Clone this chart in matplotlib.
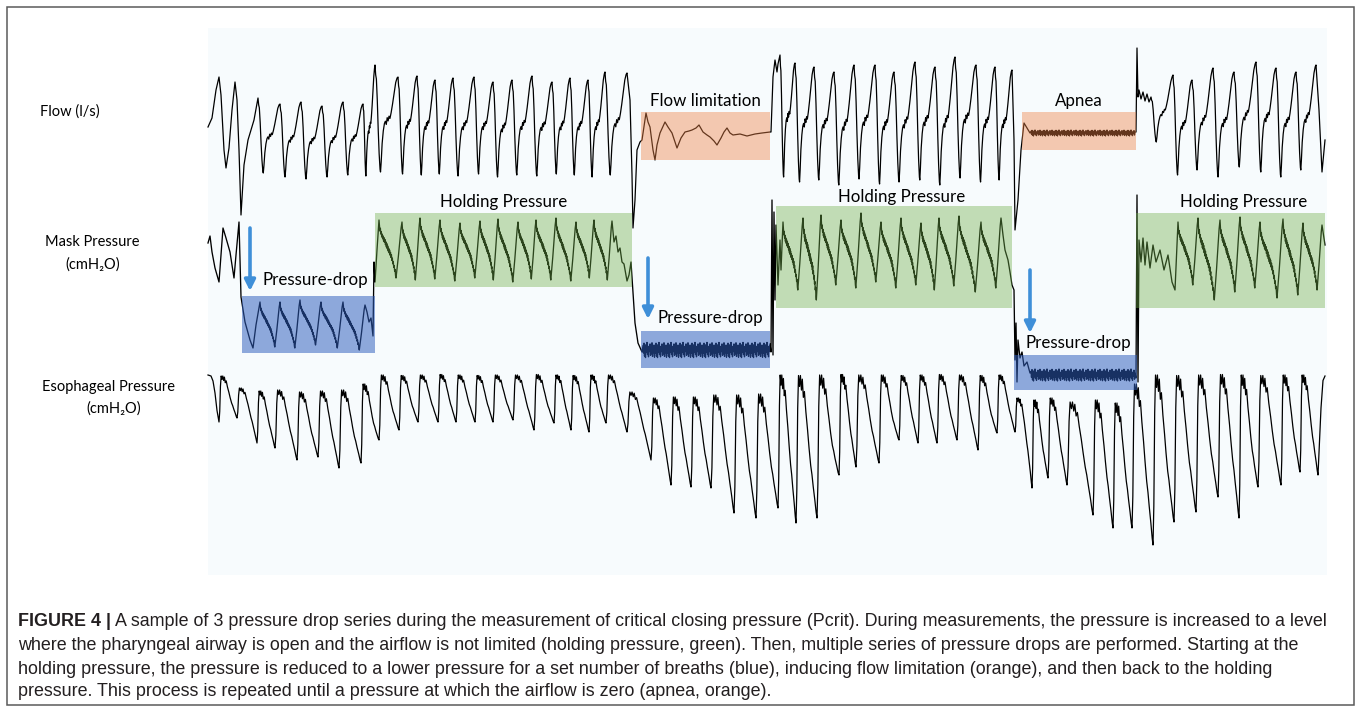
"""
Pcrit measurement: flow, mask pressure and esophageal pressure traces
during three pressure-drop series (holding / drop / flow limitation / apnea).
"""

import numpy as np
import matplotlib
matplotlib.use("Agg")
import matplotlib.pyplot as plt
from matplotlib.patches import Rectangle

# ---------------------------------------------------------------------------
# data: time in s, flow in l/s, pressures in cmH2O
# ---------------------------------------------------------------------------

# one breath cycle, phase 0..1 ; +1 = marker level (peak / trough), -1 = mid level
FLOW_SHAPE_PH = [0.00, 0.03, 0.06, 0.10, 0.14, 0.18, 0.22, 0.24, 0.27, 0.31, 0.36, 0.41,
                 0.45, 0.49, 0.53, 0.57, 0.61, 0.65, 0.70, 0.76, 0.83, 0.90, 0.96, 1.00]
FLOW_SHAPE_V = [1.00, 0.82, 0.75, 0.35, -0.20, -0.65, -0.95, -1.00, -0.80, -0.45, -0.20, -0.05,
                0.00, -0.06, 0.08, 0.02, 0.12, 0.08, 0.20, 0.38, 0.62, 0.86, 0.97, 1.00]

MASK_SHAPE_PH = [0.00, 0.02, 0.04, 0.06, 0.08, 0.10, 0.12, 0.14, 0.16, 0.18, 0.20, 0.22,
                 0.24, 0.26, 0.28, 0.30, 0.32, 0.34, 0.36, 0.38, 0.40, 0.42, 0.44, 0.46,
                 0.48, 0.50, 0.52, 0.54, 0.56, 0.58, 0.60, 0.62, 0.64, 0.66, 0.68, 0.70,
                 0.72, 0.74, 0.77, 0.80, 0.84, 0.88, 0.92, 0.96, 1.00]
MASK_SHAPE_V = [1.00, 0.80, 0.62, 0.72, 0.52, 0.60, 0.42, 0.52, 0.36, 0.46, 0.28, 0.40,
                0.24, 0.34, 0.16, 0.26, 0.08, 0.20, 0.02, 0.12, -0.06, 0.04, -0.12, -0.02,
                -0.20, -0.10, -0.28, -0.18, -0.38, -0.30, -0.50, -0.42, -0.62, -0.56, -0.76, -0.70,
                -0.92, -1.00, -0.78, -0.55, -0.25, 0.10, 0.45, 0.78, 1.00]

PES_SHAPE_PH = [0.00, 0.04, 0.08, 0.12, 0.17, 0.21, 0.26, 0.30, 0.35, 0.40, 0.47, 0.55,
                0.62, 0.70, 0.76, 0.82, 0.90, 0.96, 1.00]
PES_SHAPE_V = [1.00, 0.55, -0.55, -1.00, -0.85, -1.00, -0.80, -0.95, -0.70, -0.78, -0.50, -0.25,
               0.00, 0.25, 0.38, 0.55, 0.75, 0.92, 1.00]

# fixed signal noise used on the flat stretches (apnea, pressure drops)
JITTER = [0.6, -0.4, 0.9, -0.8, 0.2, -1.0, 0.7, -0.3, 1.0, -0.6, 0.1, -0.9,
          0.5, -0.2, 0.8, -0.7, 0.3, -0.5, 0.95, -0.85, 0.0, -0.35, 0.65, -0.95]

# --- flow ---
FLOW_PRE_T = [0.0, 0.4, 0.8, 1.1, 1.3, 1.6, 1.8, 2.1, 2.4, 2.7, 2.9, 3.1, 3.3, 3.6, 4.0, 4.6]
FLOW_PRE_V = [0.05, 0.14, 0.42, 0.55, 0.37, -0.18, -0.36, -0.16, 0.22, 0.50, 0.32, -0.18,
              -0.83, -0.33, -0.08, 0.12]
FLOW_DROP1_T = [5.0, 7.2, 9.3, 11.4, 13.5, 15.5]
FLOW_DROP1_PK = [0.34, 0.28, 0.30, 0.26, 0.30, 0.28]
FLOW_DROP1_TR = [-0.41, -0.45, -0.47, -0.45, -0.43, -0.44]
FLOW_HOLD1_T = [16.7, 19.0, 20.9, 22.7, 24.5, 26.6, 28.5, 30.4, 32.4, 34.4, 36.2, 38.0, 39.7, 41.9]
FLOW_HOLD1_PK = [0.67, 0.55, 0.56, 0.52, 0.54, 0.55, 0.50, 0.52, 0.56, 0.50, 0.54, 0.52, 0.60, 0.59]
FLOW_HOLD1_TR = [-0.40, -0.42, -0.43, -0.42, -0.44, -0.42, -0.45, -0.43, -0.44, -0.42, -0.43,
                 -0.45, -0.43]
FLOW_FL_T = [42.2, 42.4, 42.5, 42.7, 42.9, 43.2, 43.4, 43.8, 44.0, 44.2, 44.5, 44.7, 44.9,
             45.2, 45.7, 46.0, 46.4, 46.9, 47.3, 47.7, 48.1, 48.4, 48.8, 49.1, 49.5, 49.9,
             50.2, 50.6, 50.9, 51.3, 51.6, 51.9, 52.2, 52.5, 53.2, 53.9, 54.7, 55.4, 56.2]
FLOW_FL_V = [0.32, -0.43, -0.96, -0.68, -0.18, -0.10, -0.08, 0.19, 0.10, 0.05, -0.18, -0.28,
             -0.13, -0.01, 0.10, 0.05, -0.01, -0.16, -0.06, 0.00, 0.01, 0.02, 0.04, 0.07,
             0.00, -0.03, -0.05, -0.09, -0.13, -0.06, 0.00, 0.04, -0.01, -0.03, -0.02, -0.04,
             -0.02, -0.01, 0.00]
FLOW_UP2_T = [56.3, 56.5, 56.7, 56.9, 57.0]
FLOW_UP2_V = [0.00, 0.55, 0.72, 0.60, 0.68]
FLOW_HOLD2_T = [57.2, 58.7, 60.6, 62.6, 64.6, 66.7, 68.6, 70.7, 72.7, 74.7, 76.8, 78.7, 80.4]
FLOW_HOLD2_PK = [0.77, 0.69, 0.65, 0.60, 0.67, 0.67, 0.60, 0.70, 0.65, 0.75, 0.67, 0.65, 0.62]
FLOW_HOLD2_TR = [-0.45, -0.50, -0.48, -0.53, -0.47, -0.52, -0.50, -0.48, -0.53, -0.46,
                 -0.50, -0.48]
FLOW_AP_T = [80.6, 80.7, 81.0, 81.3, 81.6, 81.9, 82.2]
FLOW_AP_V = [-0.08, -0.98, -0.68, -0.18, 0.09, 0.04, -0.01]
APNEA_T = (82.3, 92.7)
APNEA_LEVEL = -0.01
FLOW_JUMP_T = [92.8, 92.9, 93.0, 93.1, 93.3, 93.5, 93.7, 93.9, 94.1]
FLOW_JUMP_V = [0.00, 0.84, 0.35, 0.42, 0.33, 0.40, 0.31, 0.38, 0.30]
FLOW_HOLD3_T = [94.3, 96.5, 98.4, 100.5, 102.6, 104.8, 106.8, 108.8, 110.8]
FLOW_HOLD3_PK = [0.35, 0.57, 0.52, 0.64, 0.60, 0.70, 0.64, 0.60, 0.67]
FLOW_HOLD3_TR = [-0.10, -0.43, -0.38, -0.45, -0.35, -0.40, -0.45, -0.38]
FLOW_END_T = [111.1, 111.4, 111.7]
FLOW_END_V = [0.22, -0.40, -0.08]

# --- mask pressure ---
MASK_PRE_T = [0.0, 0.2, 0.4, 0.7, 1.1, 1.3, 1.5, 1.8, 2.2, 2.6, 2.8, 3.1, 3.3, 3.7, 4.2, 4.5, 4.8]
MASK_PRE_V = [11.35, 11.7, 10.9, 10.1, 9.4, 10.75, 12.1, 11.6, 10.9, 9.6, 10.75, 12.4,
              8.65, 7.4, 6.5, 6.1, 7.25]
MASK_DROP1_T = [5.2, 7.2, 9.2, 11.3, 13.5, 15.7]
MASK_DROP1_PK = [8.4, 8.4, 8.5, 8.4, 8.4, 8.25]
MASK_DROP1_TR = [6.15, 6.1, 6.25, 6.1, 6.0]
MASK_UP1_T = [15.9, 16.1, 16.3, 16.5, 16.6, 16.7, 16.9]
MASK_UP1_V = [7.9, 7.4, 7.6, 6.7, 10.4, 9.4, 11.0]
MASK_HOLD1_T = [17.1, 19.4, 21.2, 23.2, 25.2, 27.2, 29.0, 31.0, 32.8, 34.8, 36.8, 38.6, 40.4]
MASK_HOLD1_PK = [12.5, 12.4, 12.6, 12.5, 12.35, 12.45, 12.55, 12.4, 12.5, 12.6, 12.4, 12.5, 12.45]
MASK_HOLD1_TR = [9.6, 9.5, 9.55, 9.45, 9.6, 9.5, 9.4, 9.55, 9.5, 9.45, 9.6, 9.5]
MASK_DN2_T = [40.6, 40.8, 41.0, 41.2, 41.4, 41.6, 41.9, 42.1, 42.3, 42.5, 42.7, 43.0, 43.4]
MASK_DN2_V = [11.4, 11.7, 10.9, 11.1, 10.4, 10.3, 9.45, 9.75, 10.4, 8.85, 7.35, 6.35, 5.9]
DROP2_T = (43.5, 56.2)
DROP2_LEVEL = 6.0
MASK_UP2_T = [56.3, 56.4, 56.5, 56.6, 56.7, 56.8, 57.0, 57.2, 57.3]
MASK_UP2_V = [5.9, 13.5, 5.75, 12.9, 8.5, 12.25, 9.25, 11.5, 10.0]
MASK_HOLD2_T = [57.5, 59.5, 61.3, 63.3, 65.3, 67.3, 69.3, 71.3, 73.1, 75.1, 77.3, 79.3]
MASK_HOLD2_PK = [12.4, 12.6, 12.75, 12.5, 12.85, 12.4, 12.6, 12.35, 12.6, 12.7, 12.4, 12.6]
MASK_HOLD2_TR = [9.0, 8.5, 9.25, 9.1, 9.4, 9.1, 9.25, 9.0, 9.2, 8.9, 9.1]
MASK_DN3_T = [79.5, 79.7, 80.0, 80.2, 80.4, 80.6, 80.7, 80.8, 80.9, 81.0, 81.2, 81.4, 81.6,
              81.9, 82.2]
MASK_DN3_V = [11.75, 11.0, 10.5, 9.9, 9.25, 9.0, 5.5, 7.35, 4.4, 6.5, 5.6, 5.9, 5.2, 5.4, 4.85]
DROP3_T = (82.3, 92.7)
DROP3_LEVEL = 4.75
MASK_UP3_T = [92.8, 92.9, 93.0, 93.1, 93.3, 93.5, 93.7, 93.9, 94.2, 94.5, 94.8, 95.2, 95.6,
              96.0, 96.4, 96.7]
MASK_UP3_V = [4.6, 13.75, 4.4, 11.5, 10.4, 11.6, 10.25, 11.4, 10.1, 11.25, 10.4, 11.0, 10.0,
              10.75, 9.4, 9.0]
MASK_HOLD3_T = [97.0, 99.0, 101.2, 103.2, 105.2, 107.5, 109.5, 111.4]
MASK_HOLD3_PK = [12.4, 12.6, 12.5, 12.65, 12.4, 12.55, 12.35, 12.25]
MASK_HOLD3_TR = [9.25, 8.5, 8.9, 9.1, 8.6, 8.75, 9.0]
MASK_END_T = [111.6, 111.7]
MASK_END_V = [11.6, 11.25]

# --- esophageal pressure (markers = breath troughs) ---
PES_PRE_T = [0.0, 0.3, 0.5, 0.7, 0.9]
PES_PRE_V = [-1.4, -1.6, -2.6, -5.0, -8.5]
PES_T = [1.1, 2.9, 4.9, 6.7, 8.9, 11.0, 13.1, 15.3,
         17.1, 19.1, 21.0, 23.0, 24.8, 26.7, 28.5, 30.5, 32.6, 34.6, 36.3, 38.1, 39.8, 41.9,
         44.3, 46.3, 48.3, 50.3, 52.6, 54.8,
         57.0, 58.8, 60.9, 63.1, 64.8, 67.1, 69.1, 71.0, 72.9, 74.9, 77.0, 78.9, 80.7,
         82.4, 84.0, 85.9, 88.5, 90.5, 92.4,
         94.5, 96.6, 98.8, 101.0, 103.1, 105.0, 107.3, 109.2, 111.0]
PES_TR = [-10.8, -10.0, -15.0, -16.0, -18.4, -17.8, -20.0, -19.0,
          -14.4, -12.4, -10.8, -10.8, -10.8, -10.8, -10.8, -10.4, -12.4, -11.0, -12.4, -12.8,
          -11.0, -12.8,
          -18.4, -23.4, -23.8, -24.0, -29.0, -30.0,
          -28.0, -31.0, -30.0, -21.4, -19.8, -19.0, -14.4, -15.0, -15.0, -14.4, -16.4, -13.0,
          -12.8,
          -24.0, -22.0, -23.4, -29.4, -32.0, -32.0,
          -35.4, -30.8, -28.8, -25.8, -30.0, -23.8, -23.4, -20.8, -21.4]
PES_TOP = [-1.6, -4.0, -4.6, -4.4, -4.8, -4.6, -4.4, -3.2,
           -1.4, -1.5, -1.4, -1.3, -1.4, -1.5, -1.4, -1.4, -1.3, -1.4, -1.5, -1.4, -1.4,
           -4.8, -6.0, -5.8, -5.8, -5.4, -5.4, -5.2,
           -1.4, -1.5, -1.4, -1.3, -1.4, -1.4, -1.5, -1.4, -1.3, -1.4, -1.5, -1.4,
           -6.0, -6.4, -6.0, -6.8, -6.4, -7.0, -3.2,
           -1.4, -1.5, -1.4, -1.3, -1.4, -1.5, -1.4, -1.4]
PES_END_T = [111.3, 111.5, 111.7]
PES_END_V = [-8.0, -2.5, -1.6]

# phase boxes (start s, end s, colour key) and their labels
PHASES = [
    (3.4, 16.7, "blue"), (16.7, 42.4, "green"),
    (43.3, 56.2, "blue"), (56.8, 80.4, "green"),
    (80.6, 92.9, "blue"), (92.8, 111.7, "green"),
]
FLOW_BOXES = [(43.3, 56.2, "Flow limitation"), (81.4, 92.8, "Apnea")]

CAPTION_BOLD = "FIGURE 4 |"
CAPTION = [
    " A sample of 3 pressure drop series during the measurement of critical closing pressure "
    "(Pcrit). During measurements, the pressure is increased to a level",
    "where the pharyngeal airway is open and the airflow is not limited (holding pressure, "
    "green). Then, multiple series of pressure drops are performed. Starting at the",
    "holding pressure, the pressure is reduced to a lower pressure for a set number of breaths "
    "(blue), inducing flow limitation (orange), and then back to the holding",
    "pressure. This process is repeated until a pressure at which the airflow is zero "
    "(apnea, orange).",
]

# ---------------------------------------------------------------------------
# layout (pixels of the 1360x712 canvas)
# ---------------------------------------------------------------------------
X0, XS = 208, 10.0            # px of t=0, px per second
FLOW_Y0, FLOW_G = 132, 100.0  # px of zero flow, px per l/s
MASK_Y0, MASK_G = 470, 20.0   # px per cmH2O
PES_Y0, PES_G = 368, 5.0

BOX_Y = {"blue": [(296, 353), (331, 368), (355, 390)],
         "green": [(213, 287), (206, 308), (213, 308)]}
FLOW_BOX_Y = [(112, 160), (112, 150)]
BOX_COL = {"green": ("#70AF4B", 0.40), "blue": ("#2F5EBD", 0.53),
           "orange": ("#EE8347", 0.42)}
ARROWS = [(4.2, 228, 291), (44.0, 258, 319), (82.2, 270, 333)]
HOLD_LABELS = [(29.6, 202), (69.4, 197), (103.6, 202)]
DROP_LABELS = [(10.7, 280), (50.2, 318), (87.0, 343)]

LABEL_FONT = ["Lato", "Noto Sans", "DejaVu Sans"]
CAP_FONT = ["Liberation Sans Narrow", "Liberation Sans", "DejaVu Sans"]
IN_SIZE = 12.2
SIDE_SIZE = 10.5


def breath_run(times, marks, mids, shape_ph, shape_v):
    """Place one breath shape between consecutive markers."""
    ph = np.asarray(shape_ph)
    frac = (np.asarray(shape_v) + 1) / 2
    xs, ys = [], []
    for i in range(len(times) - 1):
        edge = marks[i] + (marks[i + 1] - marks[i]) * ph
        xs.append((times[i] + ph * (times[i + 1] - times[i]))[:-1])
        ys.append((mids[i] + (edge - mids[i]) * frac)[:-1])
    xs.append(np.array([times[-1]]))
    ys.append(np.array([marks[-1]]))
    return np.concatenate(xs), np.concatenate(ys)


def noisy_flat(span, level, amp, step=0.05):
    n = int(round((span[1] - span[0]) / step)) + 1
    return span[0] + step * np.arange(n), level + amp * np.resize(JITTER, n)


def join(*parts):
    return (np.concatenate([np.asarray(p[0], float) for p in parts]),
            np.concatenate([np.asarray(p[1], float) for p in parts]))


def tx(t):
    return X0 + XS * np.asarray(t)


flow_t, flow_v = join(
    (FLOW_PRE_T, FLOW_PRE_V),
    breath_run(FLOW_DROP1_T + FLOW_HOLD1_T, FLOW_DROP1_PK + FLOW_HOLD1_PK,
               FLOW_DROP1_TR + FLOW_HOLD1_TR, FLOW_SHAPE_PH, FLOW_SHAPE_V),
    (FLOW_FL_T, FLOW_FL_V),
    (FLOW_UP2_T, FLOW_UP2_V),
    breath_run(FLOW_HOLD2_T, FLOW_HOLD2_PK, FLOW_HOLD2_TR, FLOW_SHAPE_PH, FLOW_SHAPE_V),
    (FLOW_AP_T, FLOW_AP_V),
    noisy_flat(APNEA_T, APNEA_LEVEL, 0.03),
    (FLOW_JUMP_T, FLOW_JUMP_V),
    breath_run(FLOW_HOLD3_T, FLOW_HOLD3_PK, FLOW_HOLD3_TR, FLOW_SHAPE_PH, FLOW_SHAPE_V),
    (FLOW_END_T, FLOW_END_V),
)

mask_t, mask_v = join(
    (MASK_PRE_T, MASK_PRE_V),
    breath_run(MASK_DROP1_T, MASK_DROP1_PK, MASK_DROP1_TR, MASK_SHAPE_PH, MASK_SHAPE_V),
    (MASK_UP1_T, MASK_UP1_V),
    breath_run(MASK_HOLD1_T, MASK_HOLD1_PK, MASK_HOLD1_TR, MASK_SHAPE_PH, MASK_SHAPE_V),
    (MASK_DN2_T, MASK_DN2_V),
    noisy_flat(DROP2_T, DROP2_LEVEL, 0.38),
    (MASK_UP2_T, MASK_UP2_V),
    breath_run(MASK_HOLD2_T, MASK_HOLD2_PK, MASK_HOLD2_TR, MASK_SHAPE_PH, MASK_SHAPE_V),
    (MASK_DN3_T, MASK_DN3_V),
    noisy_flat(DROP3_T, DROP3_LEVEL, 0.3),
    (MASK_UP3_T, MASK_UP3_V),
    breath_run(MASK_HOLD3_T, MASK_HOLD3_PK, MASK_HOLD3_TR, MASK_SHAPE_PH, MASK_SHAPE_V),
    (MASK_END_T, MASK_END_V),
)

pes_t, pes_v = join(
    (PES_PRE_T, PES_PRE_V),
    breath_run(PES_T, PES_TR, PES_TOP, PES_SHAPE_PH, PES_SHAPE_V),
    (PES_END_T, PES_END_V),
)

fig = plt.figure(figsize=(13.6, 7.12), dpi=100)
ax = fig.add_axes([0, 0, 1, 1])
ax.set_xlim(0, 1360)
ax.set_ylim(712, 0)
ax.axis("off")

# frame and plot background
ax.add_patch(Rectangle((7, 7), 1347, 698, fill=False, ec="#5a5a5a", lw=1.1, zorder=1))
ax.add_patch(Rectangle((208, 28), 1119, 547, fc="#f7fbfd", ec="none", zorder=0))

# traces
ax.plot(tx(flow_t), FLOW_Y0 - FLOW_G * flow_v, color="black", lw=0.9, zorder=2)
ax.plot(tx(mask_t), MASK_Y0 - MASK_G * mask_v, color="black", lw=0.95, zorder=2)
ax.plot(tx(pes_t), PES_Y0 - PES_G * pes_v, color="black", lw=0.9, zorder=2)

# coloured phase boxes, drawn over the traces
counts = {"blue": 0, "green": 0}
for t0, t1, key in PHASES:
    y0, y1 = BOX_Y[key][counts[key]]
    counts[key] += 1
    col, alpha = BOX_COL[key]
    ax.add_patch(Rectangle((tx(t0), y0), tx(t1) - tx(t0), y1 - y0,
                           fc=col, alpha=alpha, ec="none", zorder=3))
for (t0, t1, label), (y0, y1) in zip(FLOW_BOXES, FLOW_BOX_Y):
    col, alpha = BOX_COL["orange"]
    ax.add_patch(Rectangle((tx(t0), y0), tx(t1) - tx(t0), y1 - y0,
                           fc=col, alpha=alpha, ec="none", zorder=3))
    ax.text((tx(t0) + tx(t1)) / 2, 101, label, ha="center", va="center",
            fontsize=IN_SIZE, family=LABEL_FONT, zorder=4)

for t, y in HOLD_LABELS:
    ax.text(tx(t), y, "Holding Pressure", ha="center", va="center",
            fontsize=IN_SIZE, family=LABEL_FONT, zorder=4)
for t, y in DROP_LABELS:
    ax.text(tx(t), y, "Pressure-drop", ha="center", va="center",
            fontsize=IN_SIZE, family=LABEL_FONT, zorder=4)

for t, y0, y1 in ARROWS:
    ax.annotate("", xy=(tx(t), y1), xytext=(tx(t), y0),
                arrowprops=dict(arrowstyle="-|>", color="#3f8fd8", lw=2.6,
                                mutation_scale=16, shrinkA=0, shrinkB=0),
                zorder=4)

# trace names
ax.text(40, 112, "Flow (l/s)", ha="left", va="center", fontsize=SIDE_SIZE, family=LABEL_FONT)
ax.text(92, 242, "Mask Pressure", ha="center", va="center", fontsize=SIDE_SIZE,
        family=LABEL_FONT)
ax.text(93, 265, "(cmH\u2082O)", ha="center", va="center", fontsize=SIDE_SIZE,
        family=LABEL_FONT)
ax.text(109, 387, "Esophageal Pressure", ha="center", va="center", fontsize=SIDE_SIZE,
        family=LABEL_FONT)
ax.text(114, 409, "(cmH\u2082O)", ha="center", va="center", fontsize=SIDE_SIZE,
        family=LABEL_FONT)

# caption
cap_size = 12.9
cap_y = [621, 645, 669, 692]
bold = ax.text(18, cap_y[0], CAPTION_BOLD, ha="left", va="center", fontsize=cap_size,
               fontweight="bold", family=CAP_FONT, color="#231f20")
ax.annotate(CAPTION[0], xy=(1, 0.5), xycoords=bold, ha="left", va="center",
            fontsize=cap_size, family=CAP_FONT, color="#231f20")
for line, y in zip(CAPTION[1:], cap_y[1:]):
    ax.text(18, y, line, ha="left", va="center", fontsize=cap_size, family=CAP_FONT,
            color="#231f20")

fig.savefig("out.png", dpi=100)
